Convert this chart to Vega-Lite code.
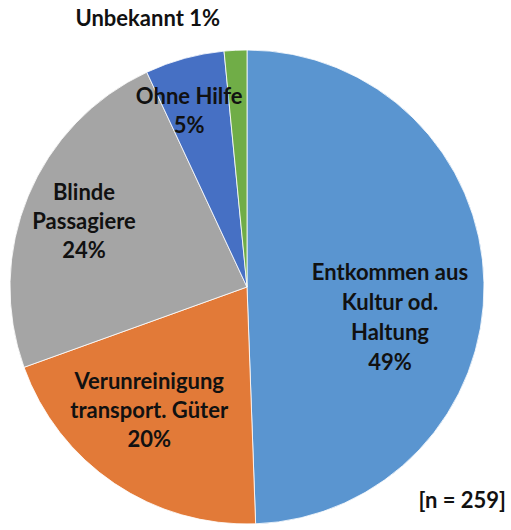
{
  "$schema": "https://vega.github.io/schema/vega-lite/v6.json",
  "width": 494,
  "height": 486,
  "autosize": {"type": "none"},
  "padding": {"left": 0, "top": 44, "right": 17, "bottom": 0},
  "background": "white",
  "data": {
    "values": [
      {"o": 1, "cat": "Entkommen aus Kultur od. Haltung", "n": 128, "label": "Entkommen aus\nKultur od.\nHaltung\n49%"},
      {"o": 2, "cat": "Verunreinigung transport. Güter", "n": 52, "label": "Verunreinigung\ntransport. Güter\n20%"},
      {"o": 3, "cat": "Blinde Passagiere", "n": 61, "label": "Blinde\nPassagiere\n24%"},
      {"o": 4, "cat": "Ohne Hilfe", "n": 14, "label": "Ohne Hilfe\n5%"},
      {"o": 5, "cat": "Unbekannt", "n": 4, "label": "Unbekannt 1%"}
    ]
  },
  "title": {
    "text": "[n = 259]",
    "orient": "bottom",
    "anchor": "end",
    "offset": 0,
    "dy": -39,
    "dx": 5,
    "font": "Lato",
    "fontSize": 22,
    "fontWeight": "bold",
    "color": "#111111"
  },
  "encoding": {
    "theta": {"field": "n", "type": "quantitative", "stack": true},
    "order": {"field": "o", "type": "quantitative"}
  },
  "layer": [
    {
      "mark": {"type": "arc", "outerRadius": 237, "stroke": "white", "strokeWidth": 0.8},
      "encoding": {
        "color": {
          "field": "cat",
          "type": "nominal",
          "sort": null,
          "scale": {
            "domain": ["Entkommen aus Kultur od. Haltung", "Verunreinigung transport. Güter", "Blinde Passagiere", "Ohne Hilfe", "Unbekannt"],
            "range": ["#5A95D0", "#E27A38", "#A5A5A5", "#4670C4", "#70AD47"]
          },
          "legend": null
        }
      }
    },
    {
      "mark": {"type": "text", "radius": 140, "dx": 3, "dy": -11, "font": "Lato", "fontSize": 22, "fontWeight": "bold", "lineBreak": "\n", "lineHeight": 30, "color": "#111111", "align": "center", "baseline": "middle"},
      "encoding": {"text": {"condition": {"test": "datum.o === 1", "field": "label"}, "value": ""}}
    },
    {
      "mark": {"type": "text", "radius": 155, "dx": -11, "dy": -33, "font": "Lato", "fontSize": 22, "fontWeight": "bold", "lineBreak": "\n", "lineHeight": 29, "color": "#111111", "align": "center", "baseline": "middle"},
      "encoding": {"text": {"condition": {"test": "datum.o === 2", "field": "label"}, "value": ""}}
    },
    {
      "mark": {"type": "text", "radius": 170, "dx": -6, "dy": -29, "font": "Lato", "fontSize": 22, "fontWeight": "bold", "lineBreak": "\n", "lineHeight": 29, "color": "#111111", "align": "center", "baseline": "middle"},
      "encoding": {"text": {"condition": {"test": "datum.o === 3", "field": "label"}, "value": ""}}
    },
    {
      "mark": {"type": "text", "radius": 185, "dx": -9, "dy": -12, "font": "Lato", "fontSize": 22, "fontWeight": "bold", "lineBreak": "\n", "lineHeight": 29, "color": "#111111", "align": "center", "baseline": "middle"},
      "encoding": {"text": {"condition": {"test": "datum.o === 4", "field": "label"}, "value": ""}}
    },
    {
      "mark": {"type": "text", "radius": 268, "dx": -14, "font": "Lato", "fontSize": 22, "fontWeight": "bold", "color": "#111111", "align": "right", "baseline": "middle"},
      "encoding": {"text": {"condition": {"test": "datum.o === 5", "field": "label"}, "value": ""}}
    }
  ]
}
